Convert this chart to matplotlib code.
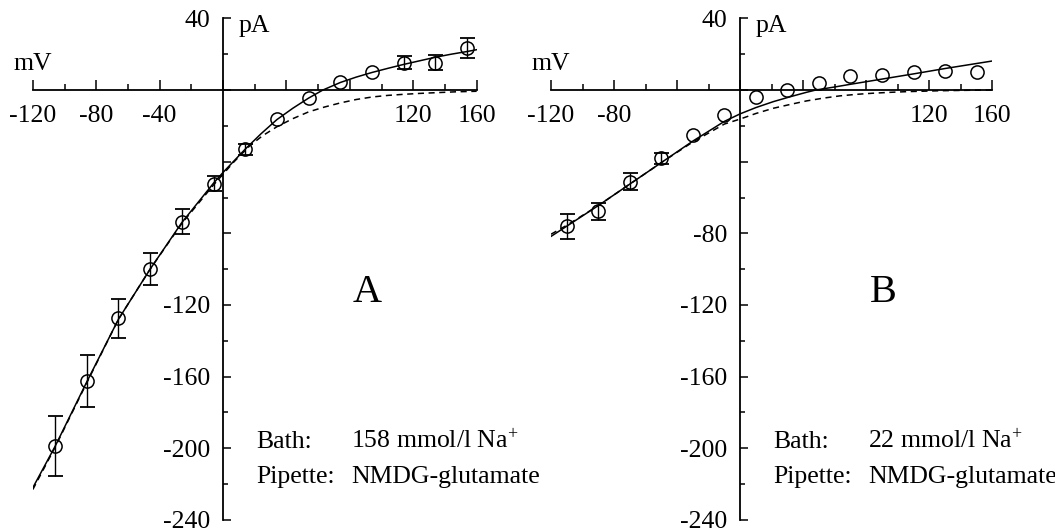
import matplotlib
matplotlib.use("Agg")
import matplotlib.pyplot as plt

plt.rcParams['font.family'] = ['Liberation Serif', 'DejaVu Serif']
plt.rcParams['mathtext.fontset'] = 'custom'
plt.rcParams['mathtext.rm'] = 'Liberation Serif'
plt.rcParams['mathtext.it'] = 'Liberation Serif:italic'
plt.rcParams['mathtext.bf'] = 'Liberation Serif:bold'

# panel A: 158 mmol/l Na+ bath
a_mv = [-106, -86, -66, -46, -26, -6, 14, 34, 54, 74, 94, 114, 134, 154]
a_pa = [-198.7, -162.4, -127.5, -99.7, -73.6, -52.2, -33.1, -16.4, -4.4, 4.4, 10.0, 15.2, 15.2, 23.5]
a_err = [17, 14.6, 11, 9, 7, 4.3, 3.2, 0, 0, 0, 0, 3.7, 4.2, 5.7]

a_fit_mv = [-120, -106, -86, -66, -46, -26, -6, 0, 7, 14, 24, 34, 44, 54, 63, 74, 84, 94, 104, 114, 124, 134, 144, 154, 160]
a_fit_pa = [-222, -199, -163, -128, -100, -74, -52, -46, -39.5, -33, -24.4, -16.5, -10.2, -4.5, 0, 4.2, 7.2, 9.8, 12.1, 14.3, 16.3, 18.3, 20, 21.5, 22.5]

a_ghk_mv = [-120, -106, -86, -66, -46, -26, -6, 0, 7, 17, 25, 34, 44, 54, 64, 74, 84, 94, 104, 114, 124, 134, 147, 160]
a_ghk_pa = [-223, -199.5, -163.5, -128, -100, -74.5, -53, -47, -40, -31, -25.5, -20.5, -16, -12.2, -9.5, -7.2, -5.3, -3.9, -3, -2.4, -1.9, -1.5, -1.0, -0.7]

# panel B: 22 mmol/l Na+ bath
b_mv = [-110, -90, -70, -50, -30, -10, 10, 30, 50, 70, 90, 110, 130, 150]
b_pa = [-76.1, -67.8, -51.1, -38.1, -25.3, -13.9, -3.7, 0, 4.1, 7.8, 8.4, 10.2, 10.8, 10.2]
b_err = [7, 4.5, 4.5, 3.2, 0, 0, 0, 0, 0, 0, 0, 0, 0, 0]

b_fit_mv = [-120, -110, -90, -70, -50, -30, -10, 0, 10, 21, 32, 42, 48, 60, 70, 90, 110, 130, 150, 160]
b_fit_pa = [-81.7, -76, -64.5, -52.5, -40.5, -28.5, -17.5, -13.3, -9.8, -6.5, -3.7, -1.3, 0, 1.7, 3.2, 6.1, 9, 12, 14.8, 16.2]

b_ghk_mv = [-120, -110, -90, -70, -50, -30, -10, 0, 10, 21, 32, 42, 53, 63, 74, 84, 95, 106, 127, 145, 160]
b_ghk_pa = [-80.5, -75.5, -64.5, -52.5, -40.5, -29, -19, -16.2, -13.1, -10.2, -8, -6.1, -4.5, -3.3, -2.4, -1.8, -1.3, -0.9, -0.4, -0.15, 0]

x_labels_a = {-120: '-120', -80: '-80', -40: '-40', 120: '120', 160: '160'}
x_labels_b = {-120: '-120', -80: '-80', 120: '120', 160: '160'}
y_labels_a = {40: '40', -120: '-120', -160: '-160', -200: '-200', -240: '-240'}
y_labels_b = {40: '40', -80: '-80', -120: '-120', -160: '-160', -200: '-200', -240: '-240'}

FS = 18.5


def draw_panel(ax, mv, pa, err, fit_mv, fit_pa, ghk_mv, ghk_pa, xlab, ylab, letter, bath):
    ax.set_xlim(-120, 160)
    ax.set_ylim(-240, 40)
    ax.spines['top'].set_visible(False)
    ax.spines['right'].set_visible(False)
    ax.spines['left'].set_position(('data', 0))
    ax.spines['bottom'].set_position(('data', 0))
    for s in ('left', 'bottom'):
        ax.spines[s].set_linewidth(1.3)

    xt = list(range(-120, 161, 40))
    ax.set_xticks(xt, [xlab.get(t, '') for t in xt])
    ax.set_xticks(list(range(-100, 161, 40)), minor=True)
    yt = list(range(-240, 41, 40))
    ax.set_yticks(yt, [ylab.get(t, '') for t in yt])
    ax.set_yticks(list(range(-220, 41, 40)), minor=True)
    ax.tick_params(axis='x', which='major', direction='in', length=7, width=1.1, pad=11, labelsize=FS)
    ax.tick_params(axis='x', which='minor', direction='in', length=4.3, width=1.1)
    ax.tick_params(axis='y', which='major', direction='in', length=6, width=1.1, pad=9, labelsize=FS)
    ax.tick_params(axis='y', which='minor', direction='in', length=3.4, width=1.1)
    for lab in ax.get_yticklabels():
        lab.set_verticalalignment('center_baseline')

    ax.plot(ghk_mv, ghk_pa, color='black', lw=1.1, linestyle=(0, (4, 3)))
    ax.plot(fit_mv, fit_pa, color='black', lw=1.1)

    ex = [m for m, e in zip(mv, err) if e > 0]
    ey = [p for p, e in zip(pa, err) if e > 0]
    ee = [e for e in err if e > 0]
    ax.errorbar(ex, ey, yerr=ee, fmt='none', ecolor='black', elinewidth=1.0, capsize=5.4, capthick=1.3)
    ax.plot(mv, pa, 'o', markersize=9.5, markerfacecolor='none', markeredgecolor='black', markeredgewidth=1.1)

    ax.text(-120, 14.3, 'mV', fontsize=FS, ha='center', va='center', clip_on=False)
    ax.text(10, 35.7, 'pA', fontsize=FS, ha='left', va='center', clip_on=False)
    ax.text(91, -113, letter, fontsize=29, ha='center', va='center')
    ax.text(21, -200, 'Bath:', fontsize=FS, ha='left', va='baseline')
    ax.text(81, -200, bath + ' mmol/l Na$^{+}$', fontsize=FS, ha='left', va='baseline')
    ax.text(21, -219.5, 'Pipette:', fontsize=FS, ha='left', va='baseline')
    ax.text(81, -219.5, 'NMDG-glutamate', fontsize=FS, ha='left', va='baseline', clip_on=False)


fig = plt.figure(figsize=(10.55, 5.32), dpi=100)
ax_a = fig.add_axes([0.0311, 0.0226, 0.4207, 0.9429])
ax_b = fig.add_axes([0.5223, 0.0226, 0.4183, 0.9429])
for a in (ax_a, ax_b):
    a.patch.set_visible(False)

draw_panel(ax_a, a_mv, a_pa, a_err, a_fit_mv, a_fit_pa, a_ghk_mv, a_ghk_pa,
           x_labels_a, y_labels_a, 'A', '158')
draw_panel(ax_b, b_mv, b_pa, b_err, b_fit_mv, b_fit_pa, b_ghk_mv, b_ghk_pa,
           x_labels_b, y_labels_b, 'B', '22')

fig.savefig('out.png', dpi=100)
